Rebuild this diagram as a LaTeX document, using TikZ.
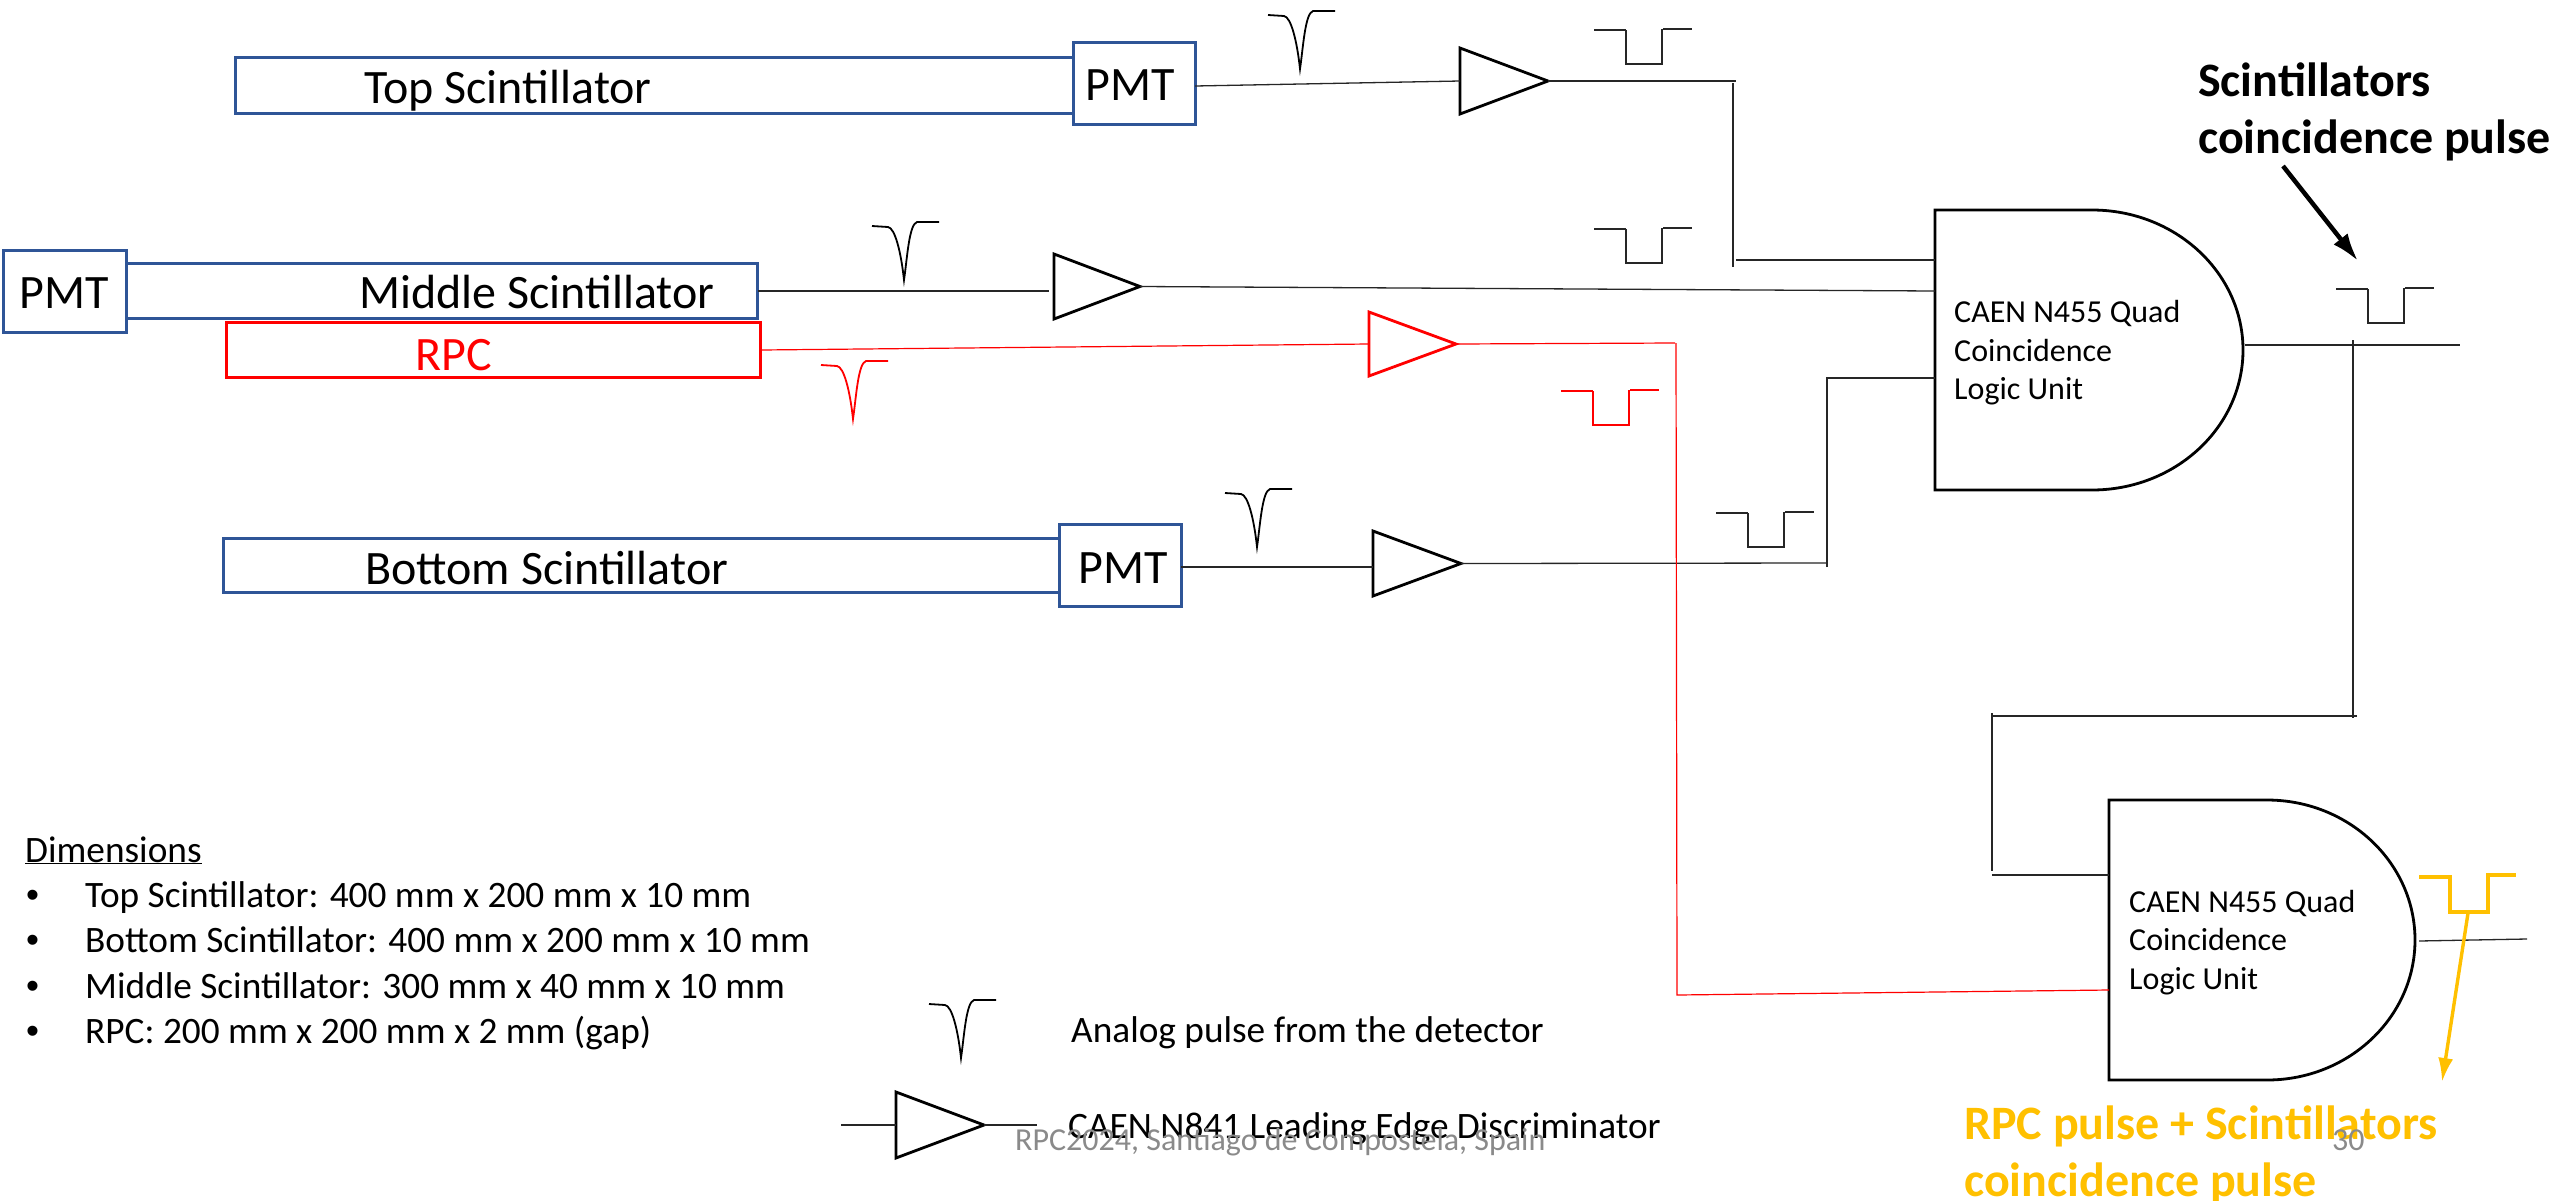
\documentclass[tikz,border=0pt]{standalone}
\usepackage{fontspec}
\usetikzlibrary{arrows.meta}
\setmainfont{Carlito}
\newfontfamily\bulletfont{Liberation Sans}
\definecolor{boxblue}{HTML}{2F5597}
\definecolor{wireblack}{HTML}{262626}
\definecolor{sigyellow}{HTML}{FFC000}
\definecolor{footgray}{HTML}{8A8A8A}
\newcommand{\fs}[1]{\fontsize{#1}{#1}\selectfont}
\tikzset{
  x=1pt,y=-1pt,
  detbox/.style={draw=boxblue,line width=3pt,fill=white,rectangle,inner sep=0pt},
  rpcbox/.style={draw=red,line width=3pt,fill=white,rectangle,inner sep=0pt},
  label/.style={anchor=base west,inner sep=0pt,font=\fs{48}},
  rpclabel/.style={label,text=red},
  gatetext/.style={anchor=base west,inner sep=0pt,font=\fs{32}},
  listtext/.style={anchor=base west,inner sep=0pt,font=\fs{37.3}},
  bullettext/.style={anchor=base west,inner sep=0pt,font=\fs{37}\bulletfont},
  boldtext/.style={anchor=base west,inner sep=0pt,font=\fs{48}\bfseries},
  yellowtext/.style={boldtext,text=sigyellow},
  foot/.style={anchor=base west,inner sep=0pt,font=\fs{32},text=footgray},
  wire/.style={draw=wireblack,line width=1.3pt},
  redwire/.style={draw=red,line width=1.2pt},
  anchorbox/.style={rectangle,inner sep=0pt,outer sep=0pt},
  symbol/.style={draw=black,line width=2.8pt,line join=miter,fill=white},
  analog/.style={draw=#1,line width=1.8pt},
  square/.style={draw=#1,line width=1.6pt},
}
% \disc{name}{colour}{left}{tip}{top}{bottom}
\newcommand{\disc}[6]{%
  \node[anchorbox,minimum width=#4pt-#3pt,minimum height=#6pt-#5pt] (#1) at ({(#3+#4)/2},{(#5+#6)/2}) {};
  \draw[symbol,draw=#2] (#1.north west) -- (#1.east) -- (#1.south west) -- cycle;}
% \gate{name}{left}{flat end}{right}{top}{bottom}
\newcommand{\gate}[6]{%
  \node[anchorbox,minimum width=#4pt-#2pt,minimum height=#6pt-#5pt] (#1) at ({(#2+#4)/2},{(#5+#6)/2}) {};
  \draw[symbol] (#1.north west) -- (#3,#5)
    .. controls ({#3+0.552*(#4-#3)},#5) and (#4,{(#5+#6)/2-0.552*(#6-#5)/2}) .. (#1.east)
    .. controls (#4,{(#5+#6)/2+0.552*(#6-#5)/2}) and ({#3+0.552*(#4-#3)},#6) .. (#3,#6)
    -- (#1.south west) -- cycle;}
\newcommand{\analogpulse}[3]{%
  \draw[analog=#3,shift={(#1,#2)}] (0,4) -- (16,5) .. controls (23,6) and (29,30) .. (32,58)
    .. controls (35,38) and (37,2) .. (45,0) -- (67,0);}
\newcommand{\squarepulse}[3]{%
  \draw[square=#3,shift={(#1,#2)}] (0,0) -- (32,0) (32,0) -- (32,34) -- (68,34) -- (68,-1) (69,-1) -- (98,-1);}
\begin{document}
\begin{tikzpicture}
\useasboundingbox (0,0) rectangle (2554,1200);
\fill[white] (0,0) rectangle (2554,1200);

% detectors
\node[detbox,minimum width=838pt,minimum height=56pt] (top) at (654,85) {};
\node[detbox,minimum width=122pt,minimum height=82pt] (pmtT) at (1134,83) {};
\node[detbox,minimum width=631pt,minimum height=55pt] (mid) at (441.5,290.5) {};
\node[detbox,minimum width=123pt,minimum height=82pt] (pmtM) at (64.5,291) {};
\node[rpcbox,minimum width=534pt,minimum height=55pt] (rpc) at (493,349.5) {};
\node[detbox,minimum width=836pt,minimum height=54pt] (bot) at (641,565) {};
\node[detbox,minimum width=122pt,minimum height=82pt] (pmtB) at (1120,565) {};

\node[label] (ltop) at (364,103) {Top Scintillator};
\node[label] (lpmtT) at (1085,100) {PMT};
\node[label] (lpmtM) at (19,308) {PMT};
\node[label] (lmid) at (359,308) {Middle Scintillator};
\node[rpclabel] (lrpc) at (415,370) {RPC};
\node[label] (lbot) at (365,584) {Bottom Scintillator};
\node[label] (lpmtB) at (1078,583) {PMT};

% free wire ends
\coordinate (aT) at (1195,86);
\coordinate (aM) at (758,291);
\coordinate (aMe) at (1049,291);
\coordinate (aR) at (761,350);
\coordinate (aB) at (1181,567);
\coordinate (aBe) at (1373,567);
\coordinate (j1a) at (1736,81);
\coordinate (j1b) at (1733,83);
\coordinate (j1c) at (1733,267);
\coordinate (j1d) at (1736,260);
\coordinate (g1a) at (1935,260);
\coordinate (g1b) at (1935,291);
\coordinate (g1c) at (1935,378);
\coordinate (j3a) at (1827,563);
\coordinate (j3b) at (1827,567);
\coordinate (j3c) at (1827,378);
\coordinate (r1) at (1675,343);
\coordinate (r2) at (1676,343);
\coordinate (r3) at (1677,995);
\coordinate (g2r) at (2109,990);
\coordinate (o1a) at (2245,345);
\coordinate (o1b) at (2460,345);
\coordinate (v1a) at (2353,340);
\coordinate (v1b) at (2353,718);
\coordinate (h1a) at (2357,716);
\coordinate (h1b) at (1992,716);
\coordinate (v2a) at (1992,713);
\coordinate (v2b) at (1992,871);
\coordinate (h2a) at (1992,875);
\coordinate (g2l) at (2109,875);
\coordinate (o2a) at (2419,941);
\coordinate (o2b) at (2527,939);
\coordinate (l1) at (841,1125);
\coordinate (l2) at (1037,1125);

% discriminators and gates
\disc{dT}{black}{1460}{1548}{48}{114}
\disc{dM}{black}{1054}{1140}{254}{319}
\disc{dR}{red}{1369}{1456}{312}{376}
\disc{dB}{black}{1373}{1461}{531}{596}
\gate{g1}{1935}{2092}{2243}{210}{490}
\gate{g2}{2109}{2267}{2415}{800}{1080}
\disc{dL}{black}{896}{984}{1092}{1158}

% connectors
\draw[wire] (aT) -- (dT.west);
\draw[wire] (aM) -- (aMe);
\draw[wire] (dM.east) -- (g1b);
\draw[redwire] (aR) -- (dR.west);
\draw[wire] (aB) -- (aBe);
\draw[wire] (dT.east) -- (j1a);
\draw[wire] (j1b) -- (j1c);
\draw[wire] (j1d) -- (g1a);
\draw[wire] (dB.east) -- (j3a);
\draw[wire] (j3b) -- (j3c) -- (g1c);
\draw[redwire] (dR.east) -- (r1);
\draw[redwire] (r2) -- (r3) -- (g2r);
\draw[wire] (o1a) -- (o1b);
\draw[wire] (v1a) -- (v1b);
\draw[wire] (h1a) -- (h1b);
\draw[wire] (v2a) -- (v2b);
\draw[wire] (h2a) -- (g2l);
\draw[wire] (o2a) -- (o2b);
\draw[wire] (l1) -- (dL.west);
\draw[wire] (dL.east) -- (l2);

% pulses
\analogpulse{1268}{11}{black}
\analogpulse{872}{222}{black}
\analogpulse{821}{361}{red}
\analogpulse{1225}{489}{black}
\analogpulse{929}{1000}{black}
\squarepulse{1594}{30}{wireblack}
\squarepulse{1594}{229}{wireblack}
\squarepulse{1561}{391}{red}
\squarepulse{1716}{513}{wireblack}
\squarepulse{2336}{289}{wireblack}
\draw[draw=sigyellow,line width=3.2pt] (2419,877) -- (2450,877) -- (2450,912) -- (2488,912) -- (2488,875) -- (2516,875);

% annotation arrows
\coordinate (arK1) at (2283,166);
\coordinate (arK2) at (2358,261);
\coordinate (arY1) at (2468,913);
\coordinate (arY2) at (2442,1082);
\draw[line width=4.5pt,-{Latex[length=28pt,width=18pt]}] (arK1) -- (arK2);
\draw[draw=sigyellow,line width=3.4pt,-{Latex[length=24pt,width=15pt]},sigyellow] (arY1) -- (arY2);

% gate texts
\node[gatetext] (g1t1) at (1954,322) {CAEN N455 Quad};
\node[gatetext] (g1t2) at (1954,361) {Coincidence};
\node[gatetext] (g1t3) at (1954,399) {Logic Unit};
\node[gatetext] (g2t1) at (2129,912) {CAEN N455 Quad};
\node[gatetext] (g2t2) at (2129,950) {Coincidence};
\node[gatetext] (g2t3) at (2129,989) {Logic Unit};

% bold captions
\node[boldtext] (c1) at (2198,96) {Scintillators};
\node[boldtext] (c2) at (2198,153) {coincidence pulse};
\node[yellowtext] (c3) at (1964,1139) {RPC pulse + Scintillators};
\node[yellowtext] (c4) at (1964,1196) {coincidence pulse};

% dimensions list
\node[listtext] (dim) at (25,862) {\underline{Dimensions}};
\node[bullettext] (b1) at (26,907) {•};
\node[bullettext] (b2) at (26,952) {•};
\node[bullettext] (b3) at (26,998) {•};
\node[bullettext] (b4) at (26,1043) {•};
\node[listtext] (i1) at (85,907) {Top Scintillator: 400 mm x 200 mm x 10 mm};
\node[listtext] (i2) at (85,952) {Bottom Scintillator: 400 mm x 200 mm x 10 mm};
\node[listtext] (i3) at (85,998) {Middle Scintillator: 300 mm x 40 mm x 10 mm};
\node[listtext] (i4) at (85,1043) {RPC: 200 mm x 200 mm x 2 mm (gap)};

% legend
\node[listtext] (leg1) at (1071,1042) {Analog pulse from the detector};
\node[listtext] (leg2) at (1068,1138) {CAEN N841 Leading Edge Discriminator};

% footer
\node[foot] (f1) at (1015,1150) {RPC2024, Santiago de Compostela, Spain};
\node[foot] (f2) at (2332,1150) {30};
\end{tikzpicture}
\end{document}
